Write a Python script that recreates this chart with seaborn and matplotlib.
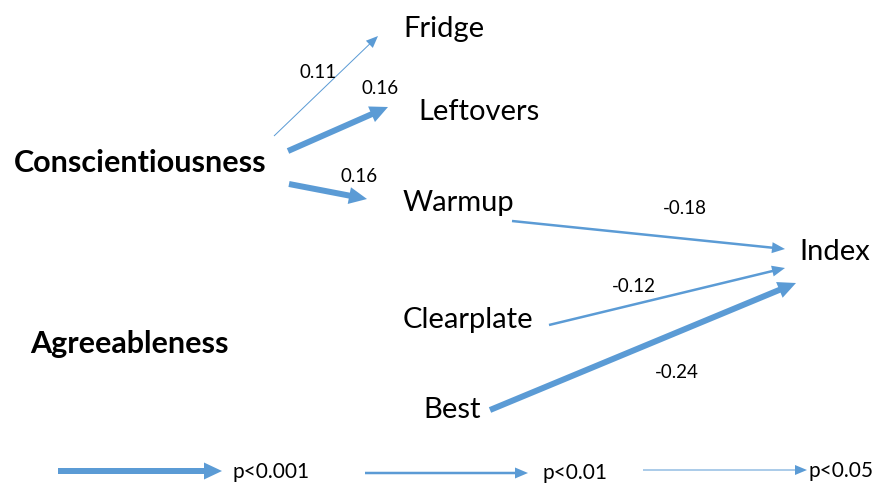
import matplotlib
matplotlib.use("Agg")
import matplotlib.pyplot as plt
import seaborn as sns

# Path model: predictors -> behaviours -> index
sources = ["Conscientiousness", "Conscientiousness", "Conscientiousness",
           "Warmup", "Clearplate", "Best"]
targets = ["Fridge", "Leftovers", "Warmup", "Index", "Index", "Index"]
coefs = [0.11, 0.16, 0.16, -0.18, -0.12, -0.24]
signif = ["p<0.05", "p<0.001", "p<0.001", "p<0.01", "p<0.01", "p<0.001"]

legend_labels = ["p<0.001", "p<0.01", "p<0.05"]

# Layout (pixel coordinates of the canvas)
node_pos = {
    "Conscientiousness": (14, 163, "bold"),
    "Agreeableness": (30, 344, "bold"),
    "Fridge": (403, 29, "normal"),
    "Leftovers": (418, 112, "normal"),
    "Warmup": (403, 203, "normal"),
    "Clearplate": (403, 320, "normal"),
    "Best": (423, 410, "normal"),
    "Index": (799, 252, "normal"),
}
edge_geom = [
    ((274, 136), (378, 36), (318, 72)),
    ((288, 151), (388, 107), (380, 88)),
    ((289, 184), (367, 199), (359, 176)),
    ((512, 221), (785, 249), (685, 208)),
    ((549, 325), (785, 268), (634, 287)),
    ((490, 410), (796, 283), (677, 372)),
]
# shaft width, head width, head length per significance level
styles = {"p<0.001": (6, 17, 18), "p<0.01": (2.5, 11, 13), "p<0.05": (1.0, 10, 12)}
legend_geom = [((58, 471), (222, 471), (233, 472)),
               ((365, 473), (528, 473), (543, 473)),
               ((643, 470), (807, 470), (808, 471))]

color = "#5B9BD5"

sns.set_theme(style="white")
plt.rcParams["font.family"] = ["Lato", "DejaVu Sans"]

fig = plt.figure(figsize=(8.82, 4.83), dpi=100)
ax = fig.add_axes([0, 0, 1, 1])
ax.set_xlim(0, 882)
ax.set_ylim(483, 0)
ax.axis("off")

for name, (x, y, w) in node_pos.items():
    fs = 22 if w == "bold" else 21
    ax.text(x, y, name, fontsize=fs, fontweight=w, va="center", ha="left", color="black")

for (p0, p1, lp), c, s in zip(edge_geom, coefs, signif):
    sw, hw, hl = styles[s]
    ax.arrow(p0[0], p0[1], p1[0] - p0[0], p1[1] - p0[1], width=sw, head_width=hw,
             head_length=hl, length_includes_head=True, color=color, lw=0)
    ax.text(lp[0], lp[1], f"{c:.2f}", fontsize=13.5, ha="center", va="center", color="black")

for (p0, p1, lp), lab in zip(legend_geom, legend_labels):
    sw, hw, hl = styles[lab]
    ax.arrow(p0[0], p0[1], p1[0] - p0[0], 0, width=sw, head_width=hw,
             head_length=hl, length_includes_head=True, color=color, lw=0)
    ax.text(lp[0], lp[1], lab, fontsize=15, ha="left", va="center", color="black")

fig.savefig("out.png", dpi=100)
